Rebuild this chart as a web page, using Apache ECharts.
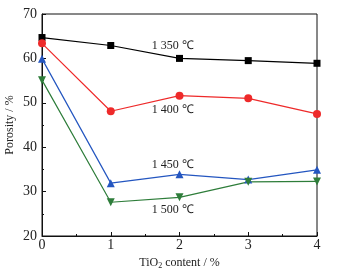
<!DOCTYPE html>
<html>
<head>
<meta charset="utf-8">
<script src="https://cdn.jsdelivr.net/npm/echarts@6/dist/echarts.min.js"></script>
<style>
  html, body { margin: 0; padding: 0; background: #fff; }
  #main { width: 343px; height: 274px; }
</style>
</head>
<body>
<div id="main"></div>
<script>
// TiO2 content (%)
var tio2 = [0, 1, 2, 3, 4];
// porosity (%) at each sintering temperature
var p1350 = [64.7, 62.9, 60.0, 59.5, 58.9];
var p1400 = [63.4, 48.1, 51.6, 51.0, 47.5];
var p1450 = [59.9, 31.9, 33.9, 32.7, 34.9];
var p1500 = [55.1, 27.6, 28.7, 32.2, 32.3];
var seriesNames = ['1 350 ℃', '1 400 ℃', '1 450 ℃', '1 500 ℃'];
// where each temperature label sits, in data units
var labelPos = [[1.9, 62.8], [1.9, 48.4], [1.9, 36.0], [1.9, 26.0]];

var font = 'Liberation Serif';

function pairs(ys) {
  return tio2.map(function (x, i) { return [x, ys[i]]; });
}

function line(name, ys, color, symbol, rotate, pos) {
  return {
    name: name,
    type: 'line',
    data: pairs(ys),
    symbol: symbol,
    symbolSize: symbol === 'rect' ? 7 : 8,
    symbolRotate: rotate,
    lineStyle: { color: color, width: 1.2 },
    itemStyle: { color: color },
    markPoint: {
      symbol: 'circle',
      symbolSize: 1,
      silent: true,
      itemStyle: { color: 'rgba(0,0,0,0)' },
      data: [{ coord: pos }],
      label: {
        show: true,
        position: 'inside',
        formatter: name,
        color: '#222',
        fontFamily: font,
        fontSize: 12
      }
    }
  };
}

var chart = echarts.init(document.getElementById('main'));
chart.setOption({
  animation: false,
  grid: {
    left: 42, right: 26, top: 14, bottom: 38,
    outerBoundsMode: 'none',
    containLabel: false,
    show: true, borderColor: '#111', borderWidth: 1
  },
  xAxis: {
    type: 'value',
    min: 0, max: 4, interval: 1,
    name: 'TiO{sub|2} content / %',
    nameLocation: 'middle',
    nameGap: 17,
    nameTextStyle: {
      fontFamily: font, fontSize: 12, color: '#222',
      rich: { sub: { fontFamily: font, fontSize: 8, verticalAlign: 'bottom', padding: [6, 0, 0, 0], color: '#222' } }
    },
    axisLine: { lineStyle: { color: '#111', width: 1 } },
    axisTick: { inside: true, length: 4, lineStyle: { color: '#111' } },
    minorTick: { show: true, splitNumber: 2, length: 2, lineStyle: { color: '#111' } },
    splitLine: { show: false },
    axisLabel: { fontFamily: font, fontSize: 14, color: '#222', margin: 2 }
  },
  yAxis: {
    type: 'value',
    min: 20, max: 70, interval: 10,
    name: 'Porosity / %',
    nameLocation: 'middle',
    nameGap: 26,
    nameMoveOverlap: false,
    nameTextStyle: { fontFamily: font, fontSize: 12, color: '#222' },
    axisLine: { show: true, lineStyle: { color: '#111', width: 1 } },
    axisTick: { inside: true, length: 4, lineStyle: { color: '#111' } },
    minorTick: { show: true, splitNumber: 2, length: 2, lineStyle: { color: '#111' } },
    splitLine: { show: false },
    axisLabel: { fontFamily: font, fontSize: 14, color: '#222', margin: 5 }
  },
  series: [
    line(seriesNames[0], p1350, '#000000', 'rect', 0, labelPos[0]),
    line(seriesNames[1], p1400, '#ee2a2a', 'circle', 0, labelPos[1]),
    line(seriesNames[2], p1450, '#2456c0', 'triangle', 0, labelPos[2]),
    line(seriesNames[3], p1500, '#2e7d3a', 'triangle', 180, labelPos[3])
  ]
});
window.onresize = chart.resize;
</script>
</body>
</html>
